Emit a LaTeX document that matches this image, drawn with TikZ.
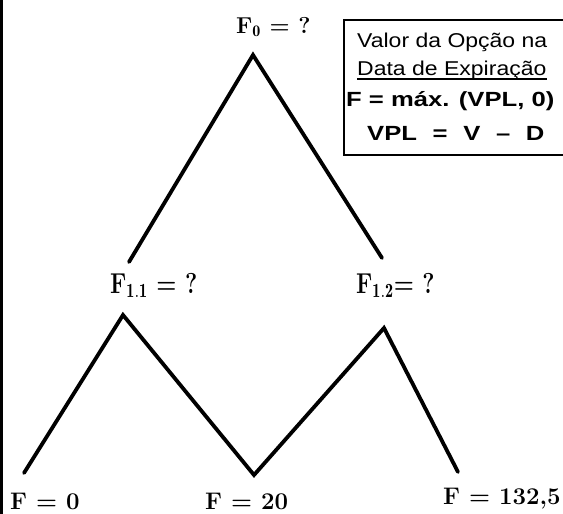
\documentclass[tikz,border=0pt]{standalone}
\usepackage{fontspec}
\newfontfamily\boxfont{Liberation Sans}
\usetikzlibrary{positioning}
\newcommand{\tallval}[1]{\scalebox{1}[1.25]{#1}}
\newcommand{\wideval}[2]{\scalebox{#1}[1]{#2}}

\begin{document}
\begin{tikzpicture}[x=1pt,y=-1pt,
  branch/.style={line width=3.8pt,line cap=round},
  val/.style={font=\fontsize{23}{26}\selectfont\bfseries,inner sep=0pt,anchor=base west},
  leaf/.style={val,font=\fontsize{24}{27}\selectfont\bfseries},
  boxtxt/.style={font=\boxfont\fontsize{20}{22}\selectfont,inner sep=0pt,anchor=base west},
  boxbold/.style={font=\boxfont\fontsize{20.5}{23}\selectfont\bfseries,inner sep=0pt,anchor=base west}]
\useasboundingbox (0,0) rectangle (563,514);
\fill[white] (0,0) rectangle (563,514);
\draw[line width=3pt] (1.5,0) -- (1.5,514);

% tree labels
\node[val] (f0) at (236,33) {F$_{\mathbf{0}}$ = ?};
\node[val] (f11) at (110,293) {\tallval{F$_{\mathbf{1.1}}$ = ?}};
\node[val] (f12) at (356,293) {\tallval{F$_{\mathbf{1.2}}$= ?}};
\node[leaf] (fa) at (10,509) {F = 0};
\node[leaf] (fb) at (205,509) {F = 20};
\node[leaf] (fc) at (443,504) {F = 132,5};

% branch ends
\coordinate (t0) at (253,55);
\coordinate (e11) at (129,262);
\coordinate (e12) at (382,258);
\coordinate (t11) at (123,315);
\coordinate (t12) at (384,328);
\coordinate (ea) at (24,473);
\coordinate (eb) at (254,475);
\coordinate (ec) at (458,472);

\draw[branch] (e11) -- (t0) -- (e12);
\draw[branch] (ea) -- (t11) -- (eb) -- (t12) -- (ec);

% formula box
\draw[line width=2pt] (572,20) -- (344,20) -- (344,155) -- (572,155);
\node[boxtxt] (b1) at (357,47) {\wideval{1.15}{Valor da Opção na}};
\node[boxtxt] (b2) at (357,75) {\wideval{1.15}{Data de Expiração}};
\draw[line width=1.2pt] ([yshift=-4pt]b2.base west) -- ([yshift=-4pt]b2.base east);
\node[boxbold] (b3) at (346,106) {\wideval{1.25}{F = máx. (VPL, 0)}};
\node[boxbold] (b4) at (367,140) {\wideval{1.25}{VPL\,\, = \,\,V \,\,– \,\,D}};
\end{tikzpicture}
\end{document}
